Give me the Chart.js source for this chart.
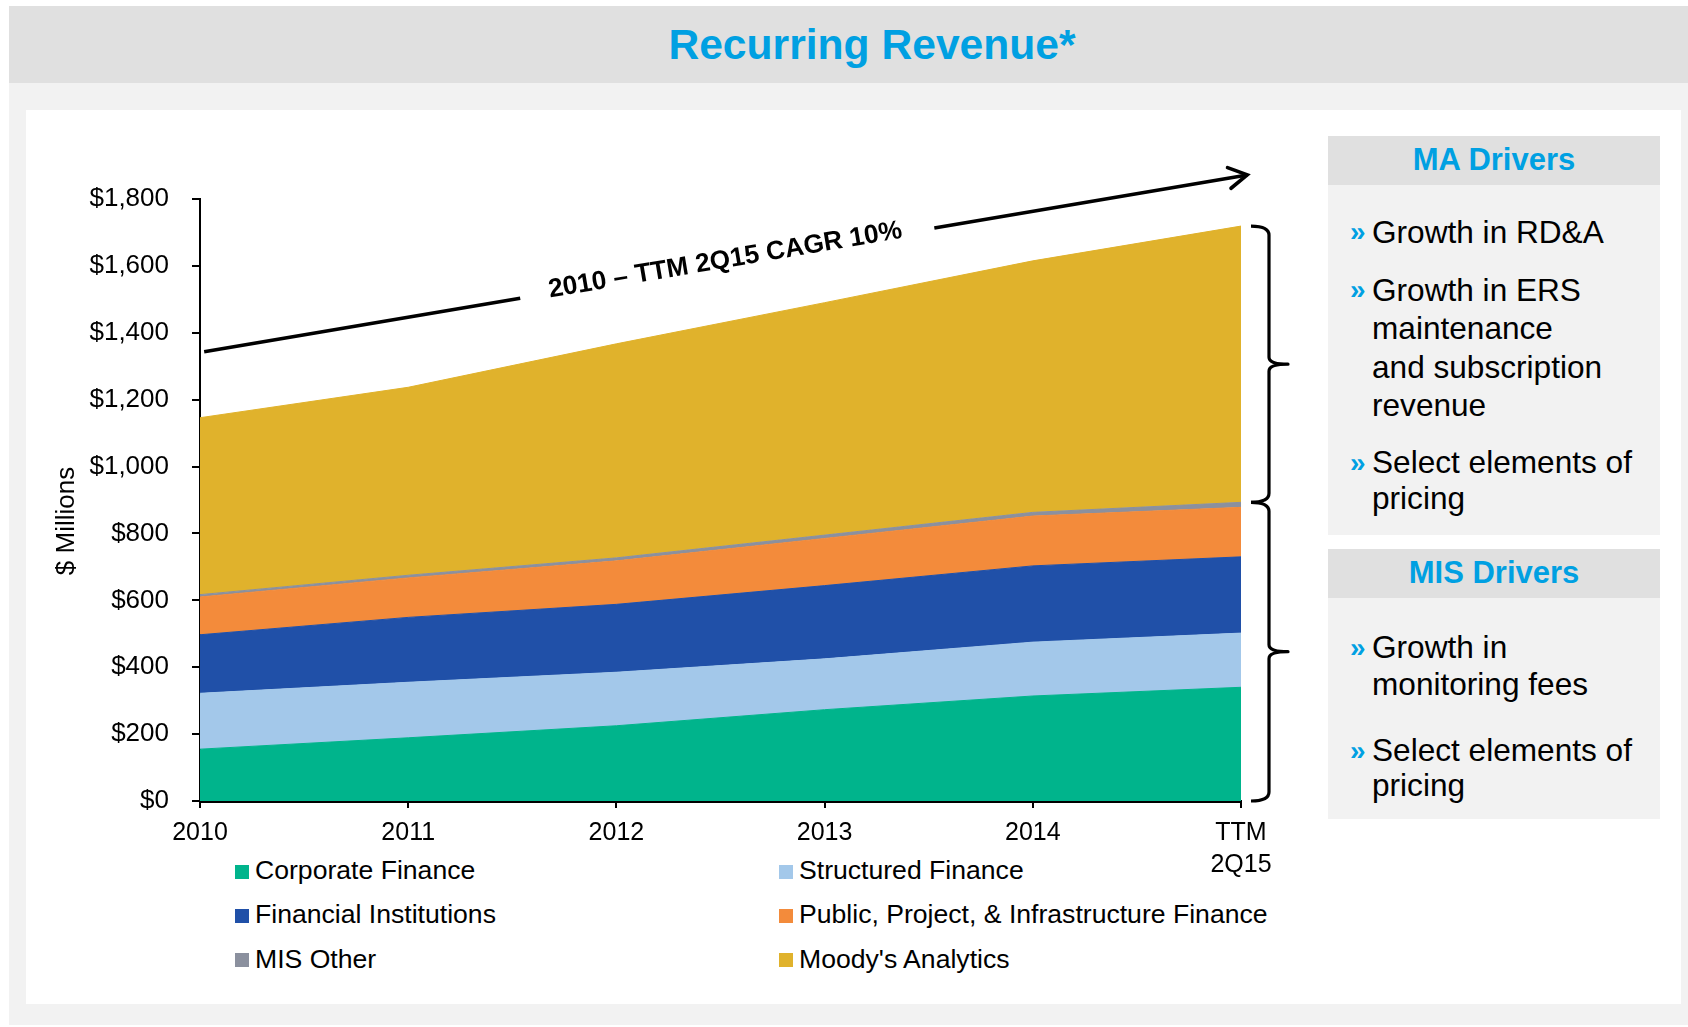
<!DOCTYPE html>
<html>
<head>
<meta charset="utf-8">
<script src="https://cdn.jsdelivr.net/npm/chart.js@4.4.0/dist/chart.umd.min.js"></script>
<style>
html,body{margin:0;padding:0;background:#fff;}
body{width:1688px;height:1027px;position:relative;overflow:hidden;font-family:'Liberation Sans',Arial,Helvetica,sans-serif;color:#000;}
.abs{position:absolute;}
#outer{left:9px;top:6px;width:1679px;height:1019px;background:#F2F2F2;}
#band{left:9px;top:6px;width:1679px;height:77px;background:#E0E0E0;}
#title{left:0;top:22.6px;width:1744px;text-align:center;font-size:42.6px;line-height:43px;font-weight:bold;color:#00A0E2;white-space:nowrap;}
#white{left:26px;top:110px;width:1655px;height:894px;background:#fff;}
.hdr{left:1328px;width:332px;height:49px;background:#E0E0E0;text-align:center;font-weight:bold;font-size:31px;line-height:48px;color:#00A0E2;}
.body{left:1328px;width:332px;background:#F2F2F2;}
.para{left:1372px;font-size:31.6px;white-space:nowrap;}
.bul{position:absolute;left:-22px;top:0;color:#00A0E2;font-weight:bold;font-size:28px;}
.lg{position:absolute;font-size:26.6px;line-height:30px;white-space:nowrap;}
.sw{position:absolute;width:14px;height:14px;}
#chart{position:absolute;left:0;top:0;z-index:5;}
</style>
</head>
<body>
<div id="outer" class="abs"></div>
<div id="band" class="abs"></div>
<div id="title" class="abs">Recurring Revenue*</div>
<div id="white" class="abs"></div>

<div class="abs hdr" style="top:136px;">MA Drivers</div>
<div class="abs body" style="top:185px;height:350px;"></div>
<div class="abs para" style="top:213.3px;line-height:38px;"><span class="bul">»</span>Growth in RD&amp;A</div>
<div class="abs para" style="top:270.7px;line-height:38.6px;"><span class="bul">»</span>Growth in ERS<br>maintenance<br>and subscription<br>revenue</div>
<div class="abs para" style="top:445.4px;line-height:35.7px;"><span class="bul">»</span>Select elements of<br>pricing</div>

<div class="abs hdr" style="top:549px;">MIS Drivers</div>
<div class="abs body" style="top:598px;height:221px;"></div>
<div class="abs para" style="top:628.6px;line-height:37.4px;"><span class="bul">»</span>Growth in<br>monitoring fees</div>
<div class="abs para" style="top:732.9px;line-height:35.5px;"><span class="bul">»</span>Select elements of<br>pricing</div>

<div id="legend"></div>
<canvas id="chart" width="1688" height="1027"></canvas>

<script>
// ---- data ----
const categories = ['2010', '2011', '2012', '2013', '2014', ['TTM', '2Q15']];
const corporateFinance      = [155, 189, 225, 273, 314, 340];
const structuredFinance     = [167, 166, 160, 152, 161, 162];
const financialInstitutions = [175, 194, 203, 219, 228, 228];
const publicProjectInfra    = [113, 118, 130, 141, 149, 148];
const misOther              = [7, 8, 9, 10, 11, 15];
const moodysAnalytics       = [529, 562, 640, 695, 752, 826];
const seriesNames = ['Corporate Finance', 'Structured Finance', 'Financial Institutions',
  'Public, Project, & Infrastructure Finance', 'MIS Other', "Moody's Analytics"];
const yTickMin = 0, yTickMax = 1800, yTickStep = 200;
const yAxisTitle = '$ Millions';
const cagrLabel = '2010 \u2013 TTM 2Q15 CAGR 10%';
const cagrStart = [0.02, 1343];   // [category index, $M] start of trend arrow
const cagrEnd   = [5.03, 1872];   // arrow tip

// ---- styles ----
const seriesColors = ['#00B48C', '#A3C8EA', '#2050A8', '#F38B3B', '#8B909E', '#E0B22C'];
const FONT = "'Liberation Sans', Arial, Helvetica, sans-serif";

const seriesValues = [corporateFinance, structuredFinance, financialInstitutions,
  publicProjectInfra, misOther, moodysAnalytics];

const datasets = seriesValues.map((vals, i) => ({
  label: seriesNames[i],
  data: vals,
  backgroundColor: seriesColors[i],
  borderColor: seriesColors[i],
  borderWidth: 1,
  pointRadius: 0,
  pointHoverRadius: 0,
  tension: 0,
  fill: i === 0 ? 'origin' : '-1'
}));

const overlay = {
  id: 'overlay',
  afterDraw(chart) {
    const ctx = chart.ctx, a = chart.chartArea, x = chart.scales.x, y = chart.scales.y;
    ctx.save();
    // y-axis title
    ctx.fillStyle = '#000';
    ctx.font = '26px ' + FONT;
    ctx.textAlign = 'center';
    ctx.textBaseline = 'middle';
    ctx.translate(a.left - 133, (a.top + a.bottom) / 2 + 21);
    ctx.rotate(-Math.PI / 2);
    ctx.fillText(yAxisTitle, 0, 0);
    ctx.restore();

    // CAGR trend arrow
    const x0 = x.getPixelForValue(cagrStart[0]), y0 = y.getPixelForValue(cagrStart[1]);
    const x1 = x.getPixelForValue(cagrEnd[0]), y1 = y.getPixelForValue(cagrEnd[1]);
    const P = t => [x0 + (x1 - x0) * t, y0 + (y1 - y0) * t];
    const ang = Math.atan2(y1 - y0, x1 - x0);
    ctx.save();
    ctx.strokeStyle = '#000';
    ctx.lineWidth = 3.6;
    ctx.lineCap = 'butt';
    ctx.beginPath();
    let p = P(0); ctx.moveTo(p[0], p[1]);
    p = P(0.303); ctx.lineTo(p[0], p[1]);
    p = P(0.70); ctx.moveTo(p[0], p[1]);
    ctx.lineTo(x1, y1);
    ctx.stroke();
    ctx.lineJoin = 'miter';
    ctx.lineCap = 'round';
    ctx.beginPath();
    const hl = 21, ha = 0.52;
    ctx.moveTo(x1 - hl * Math.cos(ang - ha), y1 - hl * Math.sin(ang - ha));
    ctx.lineTo(x1, y1);
    ctx.lineTo(x1 - hl * Math.cos(ang + ha), y1 - hl * Math.sin(ang + ha));
    ctx.stroke();
    // label
    const m = P(0.5);
    ctx.translate(m[0], m[1]);
    ctx.rotate(ang);
    ctx.fillStyle = '#000';
    ctx.font = 'bold 26.3px ' + FONT;
    ctx.textAlign = 'center';
    ctx.textBaseline = 'middle';
    ctx.fillText(cagrLabel, 0, -3);
    ctx.restore();

    // braces
    const n = categories.length - 1;
    const total = seriesValues.reduce((s, v) => s + v[n], 0);
    const misTotal = total - moodysAnalytics[n];
    const yTop = y.getPixelForValue(total), yMid = y.getPixelForValue(misTotal), yBot = y.getPixelForValue(0);
    const xh = a.right + 10, xv = a.right + 28, xt = a.right + 47;
    function brace(t, b) {
      const mid = (t + b) / 2, r = 9, rm = 7;
      ctx.beginPath();
      ctx.moveTo(xh, t);
      ctx.quadraticCurveTo(xv, t, xv, t + r);
      ctx.lineTo(xv, mid - rm);
      ctx.quadraticCurveTo(xv, mid, xt, mid);
      ctx.quadraticCurveTo(xv, mid, xv, mid + rm);
      ctx.lineTo(xv, b - r);
      ctx.quadraticCurveTo(xv, b, xh, b);
      ctx.stroke();
    }
    ctx.save();
    ctx.strokeStyle = '#000';
    ctx.lineWidth = 3.2;
    ctx.lineJoin = 'round';
    brace(yTop, yMid);
    brace(yMid, yBot);
    ctx.restore();
  }
};

const chart = new Chart(document.getElementById('chart'), {
  type: 'line',
  data: { labels: categories, datasets },
  options: {
    responsive: false,
    animation: false,
    events: [],
    layout: { padding: { left: 40, top: 199, right: 447, bottom: 126 } },
    plugins: { legend: { display: false }, tooltip: { enabled: false }, filler: { propagate: false } },
    scales: {
      x: {
        type: 'category',
        offset: false,
        afterFit(s) { s.height = 100; },
        grid: { display: true, drawOnChartArea: false, drawTicks: true, tickLength: 7, color: '#000', lineWidth: 2 },
        border: { display: true, color: '#000', width: 3 },
        ticks: { color: '#000', font: { family: FONT, size: 25, lineHeight: 1.28 }, padding: 9, maxRotation: 0, autoSkip: false }
      },
      y: {
        stacked: true,
        min: yTickMin, max: yTickMax,
        afterFit(s) { s.width = 160; },
        grid: { display: true, drawOnChartArea: false, drawTicks: true, tickLength: 8, color: '#000', lineWidth: 2 },
        border: { display: true, color: '#000', width: 2 },
        ticks: {
          stepSize: yTickStep, color: '#000', padding: 23,
          font: { family: FONT, size: 26 },
          callback: v => '$' + Number(v).toLocaleString('en-US')
        }
      }
    }
  },
  plugins: [overlay]
});

// HTML legend built from the chart's datasets (2 columns x 3 rows)
(function () {
  const lg = document.getElementById('legend');
  const colX = [235, 779], rowY = [871.7, 915.7, 960];
  chart.data.datasets.forEach((ds, i) => {
    const cx = colX[i % 2], cy = rowY[Math.floor(i / 2)];
    const sw = document.createElement('div');
    sw.className = 'sw';
    sw.style.left = cx + 'px';
    sw.style.top = (cy - 7) + 'px';
    sw.style.background = ds.backgroundColor;
    lg.appendChild(sw);
    const t = document.createElement('div');
    t.className = 'lg';
    t.style.left = (cx + 20) + 'px';
    t.style.top = (cy + 7.6 - 24) + 'px';
    t.textContent = ds.label;
    lg.appendChild(t);
  });
})();
</script>
</body>
</html>
